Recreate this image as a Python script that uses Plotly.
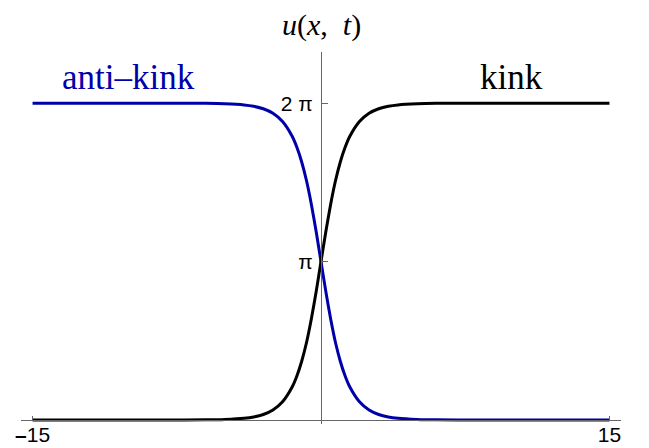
import math
import plotly.graph_objects as go

# Sine-Gordon soliton profiles u(x, t) sampled along x
x_vals = [-15, -8, -6, -5, -4, -3.5, -3, -2.5, -2, -1.5, -1.25, -1, -0.75, -0.5, -0.25,
          0, 0.25, 0.5, 0.75, 1, 1.25, 1.5, 2, 2.5, 3, 3.5, 4, 5, 6, 8, 15]
kink_u = [0.0, 0.0, 0.002, 0.010, 0.033, 0.060, 0.109, 0.199, 0.362, 0.655, 0.878, 1.170, 1.542,
          2.007, 2.551, 3.1416, 3.732, 4.276, 4.741, 5.113, 5.405, 5.628, 5.921, 6.084, 6.174,
          6.223, 6.250, 6.273, 6.281, 6.283, 6.2832]
antikink_u = [6.2832, 6.283, 6.281, 6.273, 6.250, 6.223, 6.174, 6.084, 5.921, 5.628, 5.405, 5.113,
              4.741, 4.276, 3.732, 3.1416, 2.551, 2.007, 1.542, 1.170, 0.878, 0.655, 0.362, 0.199,
              0.109, 0.060, 0.033, 0.010, 0.002, 0.0, 0.0]

x_ticks = [-15, 15]
x_ticktext = ["<b>–</b>15", "15"]
y_ticks = [math.pi, 2 * math.pi]
y_ticktext = ["π", "2 π"]

labels = ["anti–kink", "kink"]
label_x = [-10.0, 9.9]
label_y = [6.8, 6.8]

BLUE = "#0000AA"
AXIS = "#666666"

x_range = [-15.6, 15.6]
y_range = [-0.08, 7.3]

fig = go.Figure()
fig.add_trace(go.Scatter(x=x_vals, y=antikink_u, mode="lines",
                         line=dict(color=BLUE, width=3, shape="spline", smoothing=0.6),
                         hoverinfo="skip"))
fig.add_trace(go.Scatter(x=x_vals, y=kink_u, mode="lines",
                         line=dict(color="black", width=3, shape="spline", smoothing=0.6),
                         hoverinfo="skip"))

# Axes cross at the origin
x_axis_pos = (0 - y_range[0]) / (y_range[1] - y_range[0])
y_axis_pos = (0 - x_range[0]) / (x_range[1] - x_range[0])

tick_font = dict(family="Liberation Sans", size=21, color="black")

fig.update_layout(
    width=649, height=448, autosize=False,
    margin=dict(l=21, r=28, t=52, b=24),
    paper_bgcolor="white", plot_bgcolor="white",
    showlegend=False,
    xaxis=dict(range=x_range, anchor="free", position=x_axis_pos,
               showline=True, linecolor=AXIS, linewidth=1,
               ticks="inside", ticklen=4, tickcolor=AXIS, tickwidth=1,
               tickvals=x_ticks, ticktext=x_ticktext, tickfont=tick_font,
               ticklabelstandoff=-4, automargin=False,
               showgrid=False, zeroline=False, fixedrange=True),
    yaxis=dict(range=y_range, anchor="free", position=y_axis_pos, side="left",
               showline=True, linecolor=AXIS, linewidth=1,
               ticks="inside", ticklen=6, tickcolor=AXIS, tickwidth=1,
               tickvals=y_ticks, ticktext=y_ticktext, tickfont=tick_font,
               ticklabelstandoff=4, automargin=False,
               showgrid=False, zeroline=False, fixedrange=True),
)

# Curve labels
for txt, lx, ly, col in zip(labels, label_x, label_y, [BLUE, "black"]):
    fig.add_annotation(x=lx, y=ly, xref="x", yref="y", text=txt, showarrow=False,
                       xanchor="center", yanchor="middle",
                       font=dict(family="Liberation Serif", size=35, color=col))

# Axis titles
fig.add_annotation(x=0, y=1, xref="x", yref="paper", yshift=27,
                   text="<i>u</i>(<i>x</i>,  <i>t</i>)", showarrow=False,
                   xanchor="center", yanchor="middle",
                   font=dict(family="Liberation Serif", size=30, color="black"))
fig.add_annotation(x=16.45, y=0, xref="x", yref="y", yshift=2,
                   text="<i>x</i>", showarrow=False,
                   xanchor="center", yanchor="middle",
                   font=dict(family="Liberation Serif", size=28, color="black"))

fig.write_html("out.html")
